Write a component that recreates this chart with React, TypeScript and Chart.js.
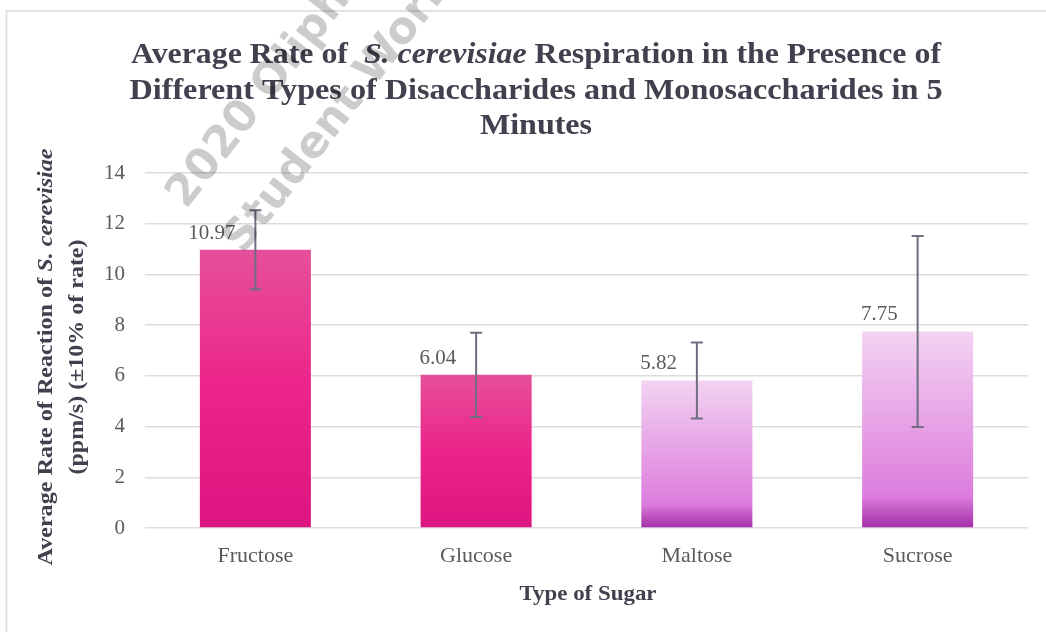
import React, { useEffect, useRef } from "react";
import { Chart, registerables } from "chart.js";

Chart.register(...registerables);

// ---------- data ----------
const categories = ["Fructose", "Glucose", "Maltose", "Sucrose"];
const rates = [10.97, 6.04, 5.82, 7.75];
const errorAmounts = [1.56, 1.66, 1.5, 3.77];
const valueLabels = ["10.97", "6.04", "5.82", "7.75"];
const sugarKinds = ["monosaccharide", "monosaccharide", "disaccharide", "disaccharide"];
const yMin = 0;
const yMax = 14;
const yStep = 2;

const titleLines = [
  [{ t: "Average Rate of  " }, { t: "S. cerevisiae", i: true }, { t: " Respiration in the Presence of" }],
  [{ t: "Different Types of Disaccharides and Monosaccharides in 5" }],
  [{ t: "Minutes" }],
];
const yTitleLines = [
  [{ t: "Average Rate of Reaction of " }, { t: "S. cerevisiae", i: true }],
  [{ t: "(ppm/s) (±10% of rate)" }],
];
const xTitle = "Type of Sugar";
const watermarkLines = ["2020 Oliphant", "Student Work"];

// ---------- styling ----------
const SERIF = '"Liberation Serif", "Times New Roman", serif';
const TITLE_COLOR = "#40404E";
const TICK_COLOR = "#5A5A5E";
const GRID_COLOR = "#DCDCE0";
const ERR_COLOR = "#6E6E80";

type Run = { t: string; i?: boolean };

function runsWidth(ctx: CanvasRenderingContext2D, runs: Run[], size: number, weight: string) {
  let w = 0;
  const widths = runs.map((r) => {
    ctx.font = `${r.i ? "italic " : ""}${weight} ${size}px ${SERIF}`;
    const m = ctx.measureText(r.t).width;
    w += m;
    return m;
  });
  return { w, widths };
}

function drawRuns(
  ctx: CanvasRenderingContext2D,
  runs: Run[],
  size: number,
  weight: string,
  color: string,
  sx: number
) {
  const { w, widths } = runsWidth(ctx, runs, size, weight);
  ctx.save();
  ctx.scale(sx, 1);
  ctx.fillStyle = color;
  ctx.textAlign = "left";
  ctx.textBaseline = "alphabetic";
  let x = -w / 2;
  runs.forEach((r, k) => {
    ctx.font = `${r.i ? "italic " : ""}${weight} ${size}px ${SERIF}`;
    ctx.fillText(r.t, x, 0);
    x += widths[k];
  });
  ctx.restore();
}

function barFill(context: any) {
  const chart = context.chart;
  const kind = sugarKinds[context.dataIndex];
  const isMono = kind === "monosaccharide";
  if (!chart.chartArea || !chart.scales || !chart.scales.y || context.type !== "data") {
    return isMono ? "#EC2389" : "#E090E0";
  }
  const ys = chart.scales.y;
  const top = ys.getPixelForValue(rates[context.dataIndex]);
  const bot = ys.getPixelForValue(0);
  if (!isFinite(top) || !isFinite(bot) || top === bot) return isMono ? "#EC2389" : "#E090E0";
  const g = chart.ctx.createLinearGradient(0, top, 0, bot);
  if (isMono) {
    g.addColorStop(0, "#E6509A");
    g.addColorStop(0.5, "#EC238A");
    g.addColorStop(1, "#DC1581");
  } else {
    g.addColorStop(0, "#F3D3F2");
    g.addColorStop(0.84, "#DC7CDD");
    g.addColorStop(0.88, "#CC68CD");
    g.addColorStop(1, "#A32EA8");
  }
  return g;
}

const decorPlugin = {
  id: "decor",
  beforeDraw(chart: any) {
    const ctx = chart.ctx as CanvasRenderingContext2D;
    ctx.save();
    ctx.fillStyle = "#FFFFFF";
    ctx.fillRect(0, 0, chart.width, chart.height);
    ctx.strokeStyle = "#E2E2E4";
    ctx.lineWidth = 2;
    ctx.beginPath();
    ctx.moveTo(chart.width + 2, 11);
    ctx.lineTo(6.5, 11);
    ctx.lineTo(6.5, chart.height + 2);
    ctx.stroke();
    ctx.restore();
  },
  afterDatasetsDraw(chart: any) {
    const ctx = chart.ctx as CanvasRenderingContext2D;
    const meta = chart.getDatasetMeta(0);
    const ys = chart.scales.y;
    ctx.save();
    // error bars
    ctx.strokeStyle = ERR_COLOR;
    ctx.lineWidth = 2;
    meta.data.forEach((bar: any, i: number) => {
      const x = bar.x;
      const hi = ys.getPixelForValue(rates[i] + errorAmounts[i]);
      const lo = ys.getPixelForValue(rates[i] - errorAmounts[i]);
      ctx.beginPath();
      ctx.moveTo(x, hi);
      ctx.lineTo(x, lo);
      ctx.moveTo(x - 6, hi);
      ctx.lineTo(x + 6, hi);
      ctx.moveTo(x - 6, lo);
      ctx.lineTo(x + 6, lo);
      ctx.stroke();
    });
    // value labels
    ctx.fillStyle = TICK_COLOR;
    ctx.font = `21px ${SERIF}`;
    ctx.textAlign = "right";
    ctx.textBaseline = "alphabetic";
    meta.data.forEach((bar: any, i: number) => {
      ctx.fillText(valueLabels[i], bar.x - 20, bar.y - 11);
    });
    ctx.restore();
  },
  afterDraw(chart: any) {
    const ctx = chart.ctx as CanvasRenderingContext2D;
    const area = chart.chartArea;
    // chart title
    const tSize = 30;
    const w1 = runsWidth(ctx, titleLines[0], tSize, "bold").w;
    const w2 = runsWidth(ctx, titleLines[1], tSize, "bold").w;
    const sx1 = 810 / w1;
    const sx2 = 813 / w2;
    const sxs = [sx1, sx2, (sx1 + sx2) / 2];
    const baselines = [63, 98.5, 134];
    titleLines.forEach((line, k) => {
      ctx.save();
      ctx.translate(536, baselines[k]);
      drawRuns(ctx, line, tSize, "bold", TITLE_COLOR, sxs[k]);
      ctx.restore();
    });
    // y axis title
    const ySize = 21;
    const yTargets = [417, 235];
    const yBase = [52, 83];
    yTitleLines.forEach((line, k) => {
      const w = runsWidth(ctx, line, ySize, "bold").w;
      ctx.save();
      ctx.translate(yBase[k], 357);
      ctx.rotate(-Math.PI / 2);
      drawRuns(ctx, line, ySize, "bold", TITLE_COLOR, yTargets[k] / w);
      ctx.restore();
    });
    // x axis title
    const xw = runsWidth(ctx, [{ t: xTitle }], 21, "bold").w;
    ctx.save();
    ctx.translate(588, 600);
    drawRuns(ctx, [{ t: xTitle }], 21, "bold", TITLE_COLOR, 137 / xw);
    ctx.restore();

    // watermark
    ctx.save();
    ctx.fillStyle = "rgba(0,0,0,0.2)";
    ctx.font = 'bold 44px "DejaVu Sans", sans-serif';
    ctx.textAlign = "left";
    ctx.textBaseline = "alphabetic";
    const ang = (-52 * Math.PI) / 180;
    const origins = [
      [186, 210],
      [243, 255],
    ];
    watermarkLines.forEach((txt, k) => {
      ctx.save();
      ctx.translate(origins[k][0], origins[k][1]);
      ctx.rotate(ang);
      ctx.fillText(txt, 0, 0);
      ctx.restore();
    });
    ctx.restore();
  },
};

export default function App() {
  const canvasRef = useRef<HTMLCanvasElement | null>(null);

  useEffect(() => {
    document.body.style.margin = "0";
    const canvas = canvasRef.current;
    if (!canvas) return;
    const chart = new Chart(canvas, {
      type: "bar",
      data: {
        labels: categories,
        datasets: [
          {
            label: "Average rate",
            data: rates,
            backgroundColor: barFill,
            borderWidth: 0,
            barPercentage: 0.503,
            categoryPercentage: 1.0,
          },
        ],
      },
      options: {
        responsive: false,
        animation: false,
        events: [],
        layout: { padding: { top: 173, right: 18, left: 0, bottom: 0 } },
        plugins: {
          legend: { display: false },
          tooltip: { enabled: false },
          title: { display: false },
        },
        scales: {
          x: {
            grid: { display: false, drawTicks: false },
            border: { display: false },
            ticks: {
              color: TICK_COLOR,
              font: { family: SERIF, size: 22 },
              padding: 15,
            },
            afterFit: (s: any) => {
              s.height = 104;
            },
          },
          y: {
            min: yMin,
            max: yMax,
            ticks: {
              stepSize: yStep,
              color: TICK_COLOR,
              font: { family: SERIF, size: 21 },
              padding: 20,
            },
            grid: { color: GRID_COLOR, lineWidth: 1.5, drawTicks: false },
            border: { display: false },
            afterFit: (s: any) => {
              s.width = 145;
            },
          },
        },
      },
      plugins: [decorPlugin],
    } as any);
    return () => chart.destroy();
  }, []);

  return (
    <div style={{ width: 1046, height: 632 }}>
      <canvas ref={canvasRef} width={1046} height={632} style={{ display: "block" }} />
    </div>
  );
}
